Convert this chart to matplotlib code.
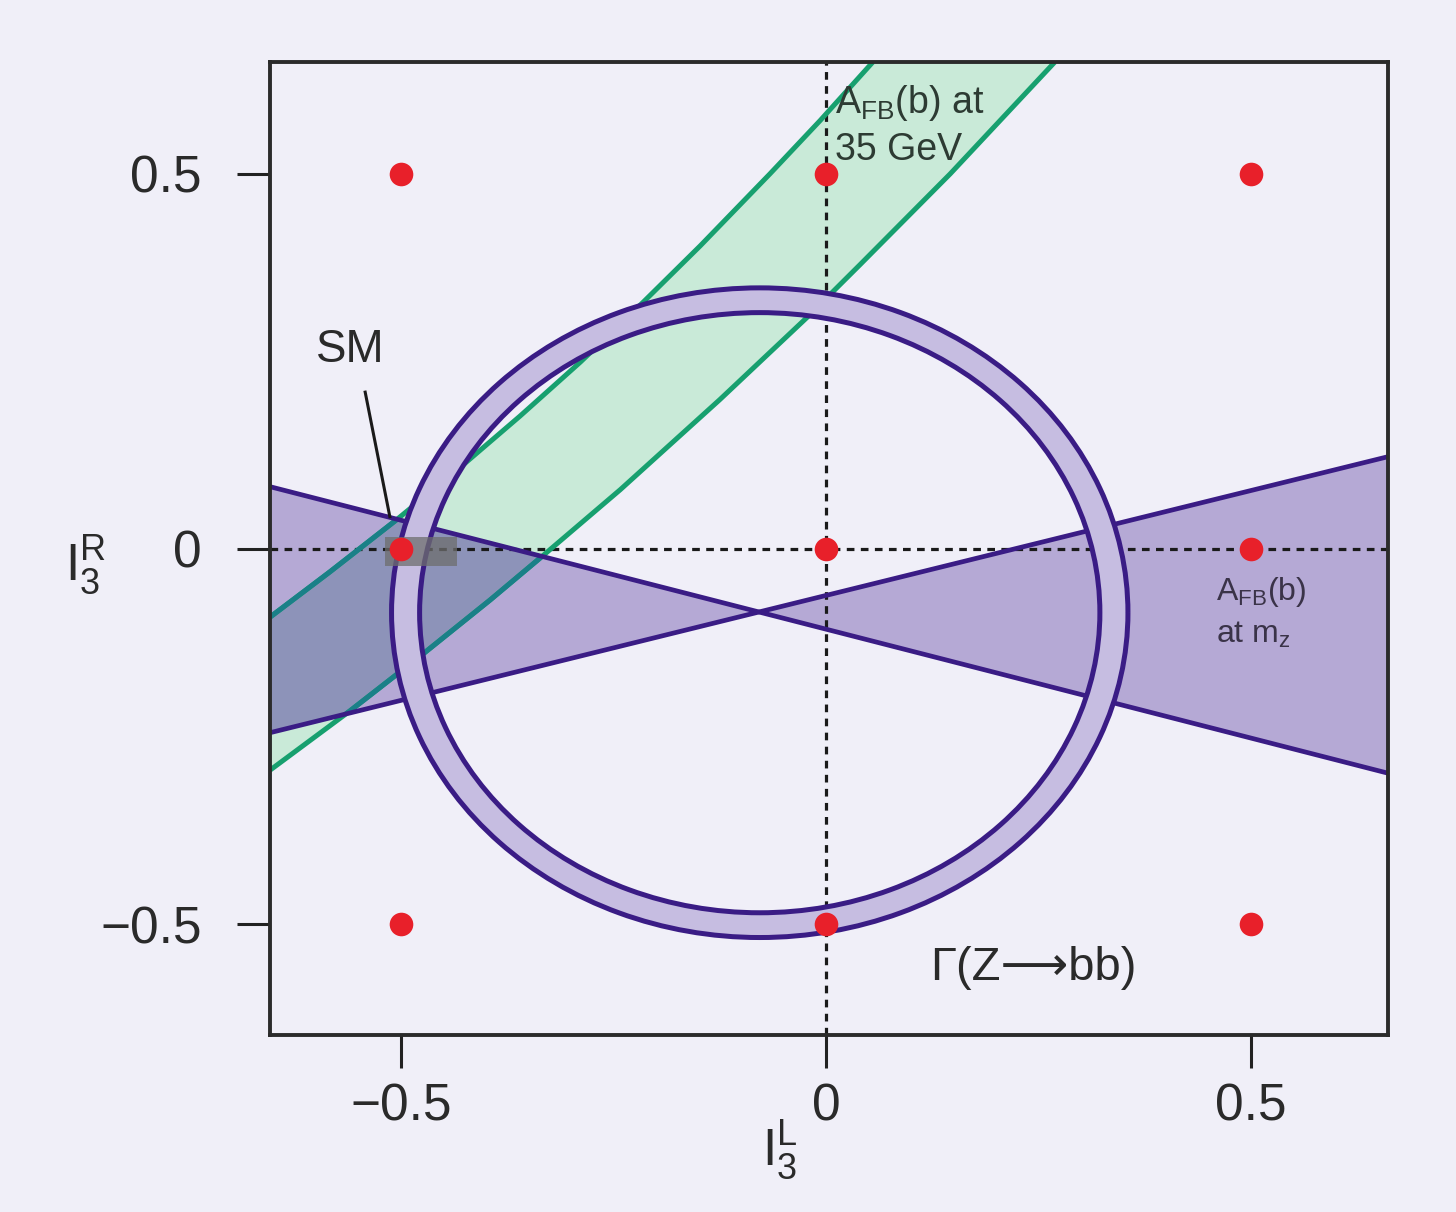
import matplotlib
matplotlib.use("Agg")
import matplotlib.pyplot as plt
from matplotlib.patches import Wedge, Rectangle, Polygon

plt.rcParams['font.family'] = ['Liberation Sans', 'DejaVu Sans']
plt.rcParams['mathtext.fontset'] = 'custom'
plt.rcParams['mathtext.rm'] = 'Liberation Sans'
plt.rcParams['mathtext.default'] = 'regular'

BG = '#f0eff8'
PURPLE_FILL = '#b5a9d5'
RING_FILL = '#c6bde1'
PURPLE_LINE = '#3a1c85'
GREEN_FILL = '#c9ead8'
GREEN_LINE = '#17a06f'
SLATE_FILL = '#8d93b9'
TEAL_LINE = '#1a8088'
TEXT = '#2a2a2a'

# isospin grid points
grid_x = [-0.5, 0.0, 0.5, -0.5, 0.0, 0.5, -0.5, 0.0, 0.5]
grid_y = [0.5, 0.5, 0.5, 0.0, 0.0, 0.0, -0.5, -0.5, -0.5]

# A_FB(b) at m_Z: two straight boundaries across the plot
afb_mz_x = [-0.654, 0.661]
afb_mz_a = [0.083, -0.299]
afb_mz_b = [-0.245, 0.123]

# A_FB(b) at 35 GeV band edges
afb35_upper_x = [-0.654, -0.584, -0.505, -0.431, -0.360, -0.289, -0.215, -0.148, -0.066, -0.007, 0.055]
afb35_upper_y = [-0.091, -0.031, 0.039, 0.108, 0.177, 0.249, 0.329, 0.404, 0.500, 0.571, 0.649]
afb35_lower_x = [-0.654, -0.560, -0.474, -0.395, -0.333, -0.242, -0.125, -0.022, 0.040, 0.146, 0.269]
afb35_lower_y = [-0.295, -0.216, -0.140, -0.068, -0.009, 0.079, 0.199, 0.309, 0.379, 0.500, 0.649]

# Gamma(Z->bb) ring
ring_center = (-0.078, -0.085)
ring_outer = 0.433
ring_inner = 0.400

# SM box
sm_box = (-0.519, -0.023, 0.085, 0.039)

fig = plt.figure(figsize=(14.56, 12.12), dpi=100, facecolor=BG)
ax = fig.add_axes([0.1854, 0.1460, 0.7680, 0.8028], facecolor=BG)
ax.set_xlim(-0.654, 0.661)
ax.set_ylim(-0.648, 0.649)

# bow-tie region
bow = ax.fill_between(afb_mz_x, afb_mz_a, afb_mz_b, color=PURPLE_FILL, lw=0, zorder=1)
bow_path = bow.get_paths()[0]

# 35 GeV band
band_pts = list(zip(afb35_upper_x, afb35_upper_y)) + list(zip(afb35_lower_x[::-1], afb35_lower_y[::-1]))
ax.add_patch(Polygon(band_pts, closed=True, fc=GREEN_FILL, ec='none', zorder=2))
overlap = Polygon(band_pts, closed=True, fc=SLATE_FILL, ec='none', zorder=2.5)
ax.add_patch(overlap)
overlap.set_clip_path(bow_path, ax.transData)

# dotted axes through origin
ax.axvline(0, color='#1a1a1a', lw=2.3, ls=(0, (2.4, 2.0)), zorder=3)
ax.axhline(0, color='#1a1a1a', lw=2.3, ls=(0, (2.4, 2.0)), zorder=3)

for xs, ys in [(afb35_upper_x, afb35_upper_y), (afb35_lower_x, afb35_lower_y)]:
    ax.plot(xs, ys, color=GREEN_LINE, lw=3.6, zorder=4, solid_capstyle='butt')
    teal, = ax.plot(xs, ys, color=TEAL_LINE, lw=3.6, zorder=4.1, solid_capstyle='butt')
    teal.set_clip_path(bow_path, ax.transData)

ax.plot(afb_mz_x, afb_mz_a, color=PURPLE_LINE, lw=3.4, zorder=5)
ax.plot(afb_mz_x, afb_mz_b, color=PURPLE_LINE, lw=3.4, zorder=5)

ax.add_patch(Wedge(ring_center, ring_outer, 0, 360, width=ring_outer - ring_inner,
                   fc=RING_FILL, ec=PURPLE_LINE, lw=3.6, zorder=6))

ax.add_patch(Rectangle(sm_box[:2], sm_box[2], sm_box[3], fc='#6e6e6e', ec='none',
                       alpha=0.75, zorder=7))

ax.plot(grid_x, grid_y, 'o', color='#e8202a', ms=17, mec='none', zorder=8)

# labels
ax.text(-0.56, 0.265, 'SM', fontsize=33, color=TEXT, ha='center', va='center', zorder=9)
ax.plot([-0.542, -0.513], [0.209, 0.043], color='#1a1a1a', lw=2.2, zorder=9)
ax.text(0.011, 0.595, r'A$_{FB}$(b) at', fontsize=27, color='#2d3b33', ha='left', va='center', zorder=9)
ax.text(0.011, 0.532, '35 GeV', fontsize=27, color='#2d3b33', ha='left', va='center', zorder=9)
ax.text(0.458, -0.057, r'A$_{FB}$(b)', fontsize=23, color='#3a3348', ha='left', va='center', zorder=9)
ax.text(0.458, -0.115, r'at m$_{z}$', fontsize=23, color='#3a3348', ha='left', va='center', zorder=9)
ax.text(0.122, -0.559, 'Γ(Z⟶bb)', fontsize=34, color=TEXT, ha='left', va='center', zorder=9)

ax.text(0.456, -0.118, r'$I_3^L$', fontsize=37, color=TEXT, ha='center', va='center',
        transform=ax.transAxes)
ax.text(-0.165, 0.483, r'$I_3^R$', fontsize=37, color=TEXT, ha='center', va='center',
        transform=ax.transAxes)

ax.set_xticks([-0.5, 0, 0.5])
ax.set_xticklabels(['\u22120.5', '0', '0.5'])
ax.set_yticks([-0.5, 0, 0.5])
ax.set_yticklabels(['\u22120.5', '0', '0.5'])
ax.tick_params(axis='both', direction='out', length=24, width=2.2, color='#222222',
               labelsize=37, labelcolor=TEXT)
ax.tick_params(axis='y', pad=25)
ax.tick_params(axis='x', pad=10)
for s in ax.spines.values():
    s.set_linewidth(2.8)
    s.set_color('#2b2b2b')
    s.set_zorder(10)

fig.savefig('out.png', dpi=100, facecolor=BG)
